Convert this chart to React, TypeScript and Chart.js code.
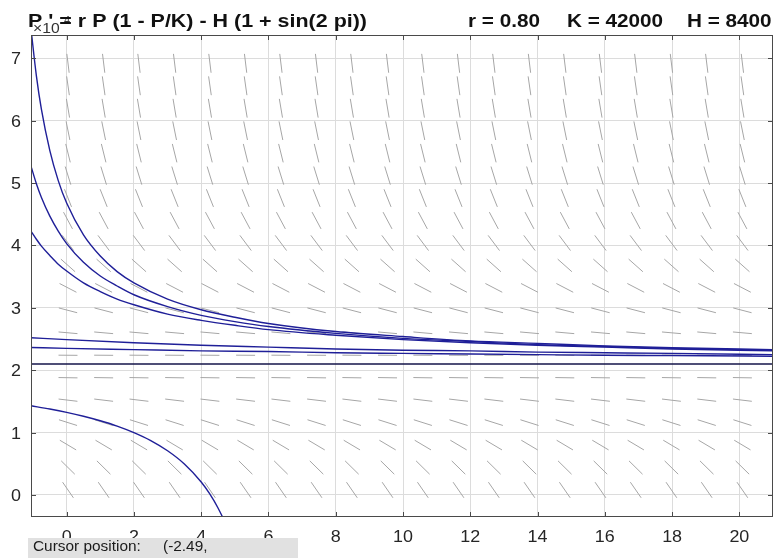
import React, { useEffect, useRef } from "react";
import { Chart, registerables } from "chart.js";

Chart.register(...registerables);

// ---- axis ticks ----
const xTickValues = [0, 2, 4, 6, 8, 10, 12, 14, 16, 18, 20];
const yTickValues = [0, 1, 2, 3, 4, 5, 6, 7];

// ---- direction field grid (P in units of 10^4) ----
const fieldX = [0.04, 1.1, 2.15, 3.21, 4.26, 5.32, 6.37, 7.43, 8.48, 9.54, 10.59, 11.65, 12.7, 13.76, 14.81, 15.87, 16.92, 17.98, 19.03, 20.09];
const fieldY = [0.08, 0.44, 0.8, 1.16, 1.52, 1.88, 2.24, 2.6, 2.96, 3.32, 3.68, 4.04, 4.4, 4.76, 5.12, 5.48, 5.84, 6.2, 6.56, 6.92];
const fieldSlope = [-0.78, -0.53, -0.32, -0.17, -0.064, -0.009, -0.004, -0.048, -0.14, -0.28, -0.48, -0.72, -1.01, -1.35, -1.74, -2.18, -2.66, -3.2, -3.79, -4.43];

// ---- solution curves ----
const tABC = [-1.06, -0.9, -0.75, -0.5, -0.25, 0, 0.5, 1, 1.5, 2, 3, 4, 5, 6, 8, 10, 12, 14, 16, 18, 21];
const yA = [7.47, 6.72, 6.18, 5.52, 5.04, 4.68, 4.17, 3.83, 3.58, 3.4, 3.14, 2.97, 2.85, 2.75, 2.62, 2.54, 2.47, 2.43, 2.39, 2.36, 2.33];
const yB = [5.27, 4.99, 4.77, 4.47, 4.23, 4.03, 3.73, 3.51, 3.35, 3.21, 3.02, 2.88, 2.78, 2.7, 2.59, 2.51, 2.46, 2.41, 2.38, 2.35, 2.32];
const yC = [4.23, 4.1, 3.99, 3.84, 3.7, 3.59, 3.4, 3.26, 3.14, 3.05, 2.9, 2.8, 2.72, 2.65, 2.56, 2.49, 2.44, 2.4, 2.37, 2.34, 2.31];

const tDE = [-1.06, 0, 2, 4, 6, 8, 10, 12, 14, 16, 18, 21];
const yD = [2.52, 2.49, 2.44, 2.4, 2.37, 2.34, 2.32, 2.31, 2.29, 2.28, 2.27, 2.25];
const yE = [2.365, 2.35, 2.33, 2.31, 2.3, 2.28, 2.27, 2.26, 2.25, 2.24, 2.235, 2.225];

const tEq = [-1.06, 21];
const yEq = [2.1, 2.1];

const tG = [-1.06, -0.5, 0, 0.5, 1, 1.5, 2, 2.5, 3, 3.5, 4, 4.25, 4.5, 4.75, 5];
const yG = [1.43, 1.378, 1.325, 1.263, 1.19, 1.105, 1.0, 0.872, 0.709, 0.497, 0.208, 0.021, -0.208, -0.493, -0.858];

const titleLeft = "P ' = r P (1 - P/K) - H (1 + sin(2 pi))";
const titleParts = ["r = 0.80", "K = 42000", "H = 8400"];
const cursorLabel = "Cursor position:";
const cursorValue = "(-2.49,";

const CURVE = "#1f1f98";
const FONT = "'Liberation Sans', Arial, Helvetica, sans-serif";

function pts(t: number[], y: number[]) {
  return t.map((v, i) => ({ x: v, y: y[i] }));
}

function drawText(ctx: CanvasRenderingContext2D, text: string, x: number, y: number, align: CanvasTextAlign, sx: number) {
  ctx.save();
  ctx.translate(x, y);
  ctx.scale(sx, 1);
  ctx.textAlign = align;
  ctx.fillText(text, 0, 0);
  ctx.restore();
}

const fieldPlugin = {
  id: "dirfield",
  beforeDatasetsDraw(chart: any) {
    const { ctx, chartArea, scales } = chart;
    const xs = scales.x;
    const ys = scales.y;
    ctx.save();
    ctx.beginPath();
    ctx.rect(chartArea.left, chartArea.top, chartArea.right - chartArea.left, chartArea.bottom - chartArea.top);
    ctx.clip();
    ctx.strokeStyle = "#a6a6a6";
    ctx.lineWidth = 1;
    const half = 9.5;
    const ux = xs.getPixelForValue(1) - xs.getPixelForValue(0);
    for (let j = 0; j < fieldY.length; j++) {
      const uy = ys.getPixelForValue(fieldSlope[j]) - ys.getPixelForValue(0);
      const len = Math.hypot(ux, uy);
      const dx = (ux / len) * half;
      const dy = (uy / len) * half;
      for (let i = 0; i < fieldX.length; i++) {
        const cx = xs.getPixelForValue(fieldX[i]);
        const cy = ys.getPixelForValue(fieldY[j]);
        ctx.beginPath();
        ctx.moveTo(cx - dx, cy - dy);
        ctx.lineTo(cx + dx, cy + dy);
        ctx.stroke();
      }
    }
    ctx.restore();
  },
};

const framePlugin = {
  id: "frame",
  afterDraw(chart: any) {
    const { ctx, chartArea, scales } = chart;
    const xs = scales.x;
    const ys = scales.y;
    const { left, right, top, bottom } = chartArea;
    ctx.save();
    // box
    ctx.strokeStyle = "#4a4a4a";
    ctx.lineWidth = 1;
    ctx.strokeRect(left + 0.5, top + 0.5, right - left - 1, bottom - top - 1);
    // inner ticks
    const tl = 5;
    ctx.beginPath();
    for (const v of xTickValues) {
      const px = Math.round(xs.getPixelForValue(v)) + 0.5;
      ctx.moveTo(px, bottom);
      ctx.lineTo(px, bottom - tl);
      ctx.moveTo(px, top);
      ctx.lineTo(px, top + tl);
    }
    for (const v of yTickValues) {
      const py = Math.round(ys.getPixelForValue(v)) + 0.5;
      ctx.moveTo(left, py);
      ctx.lineTo(left + tl, py);
      ctx.moveTo(right, py);
      ctx.lineTo(right - tl, py);
    }
    ctx.stroke();

    // tick labels
    ctx.fillStyle = "#262626";
    ctx.font = `16px ${FONT}`;
    ctx.textBaseline = "alphabetic";
    for (const v of xTickValues) {
      drawText(ctx, String(v), xs.getPixelForValue(v), bottom + 25, "center", 1.12);
    }
    for (const v of yTickValues) {
      drawText(ctx, String(v), left - 10, ys.getPixelForValue(v) + 6, "right", 1.12);
    }

    // multiplier
    ctx.fillStyle = "#333";
    ctx.font = `14px ${FONT}`;
    drawText(ctx, "\u00d710", left + 2, top - 2, "left", 1.12);
    ctx.font = `10px ${FONT}`;
    drawText(ctx, "4", left + 33, top - 11, "left", 1.1);

    // titles
    ctx.fillStyle = "#111";
    ctx.font = `bold 18px ${FONT}`;
    const w = ctx.measureText(titleLeft).width;
    drawText(ctx, titleLeft, left - 3, top - 8, "left", 339 / w);
    const starts = [468, 567, 687];
    titleParts.forEach((s, i) => drawText(ctx, s, starts[i], top - 8, "left", 1.15));

    // cursor position box
    ctx.fillStyle = "#e1e1e1";
    ctx.fillRect(left - 3, 538, 270, 20);
    ctx.fillStyle = "#1a1a1a";
    ctx.font = `14px ${FONT}`;
    drawText(ctx, cursorLabel, left + 2, 551, "left", 1.1);
    drawText(ctx, cursorValue, left + 132, 551, "left", 1.1);
    ctx.restore();
  },
};

export default function App() {
  const ref = useRef<HTMLCanvasElement | null>(null);
  useEffect(() => {
    if (!ref.current) return;
    const line = (t: number[], y: number[], color: string, w = 1.4) => ({
      data: pts(t, y),
      borderColor: color,
      borderWidth: w,
      pointRadius: 0,
      showLine: true,
      fill: false,
      cubicInterpolationMode: "monotone" as const,
      clip: 0,
    });
    const chart = new Chart(ref.current, {
      type: "scatter",
      data: {
        datasets: [
          line(tABC, yA, CURVE),
          line(tABC, yB, CURVE),
          line(tABC, yC, CURVE),
          line(tDE, yD, CURVE),
          line(tDE, yE, CURVE),
          line(tEq, yEq, "#14144a", 1.3),
          line(tG, yG, CURVE),
        ],
      },
      options: {
        animation: false,
        responsive: false,
        devicePixelRatio: 1,
        events: [],
        layout: { padding: { top: 35, right: 3, left: 0, bottom: 0 } },
        plugins: { legend: { display: false }, tooltip: { enabled: false }, title: { display: false } },
        scales: {
          x: {
            type: "linear",
            min: -1.06,
            max: 21,
            afterBuildTicks: (s: any) => {
              s.ticks = xTickValues.map((v) => ({ value: v }));
            },
            afterFit: (s: any) => {
              s.height = 41;
            },
            ticks: { display: false },
            border: { display: false },
            grid: { color: "#dcdcdc", lineWidth: 1, drawTicks: false },
          },
          y: {
            type: "linear",
            min: -0.353,
            max: 7.374,
            afterBuildTicks: (s: any) => {
              s.ticks = yTickValues.map((v) => ({ value: v }));
            },
            afterFit: (s: any) => {
              s.width = 31;
            },
            ticks: { display: false },
            border: { display: false },
            grid: { color: "#dcdcdc", lineWidth: 1, drawTicks: false },
          },
        },
      },
      plugins: [fieldPlugin, framePlugin],
    } as any);
    return () => chart.destroy();
  }, []);
  return (
    <div style={{ position: "absolute", left: 0, top: 0, width: 776, height: 558, background: "#fff" }}>
      <canvas ref={ref} width={776} height={558} style={{ width: 776, height: 558, display: "block" }} />
    </div>
  );
}
